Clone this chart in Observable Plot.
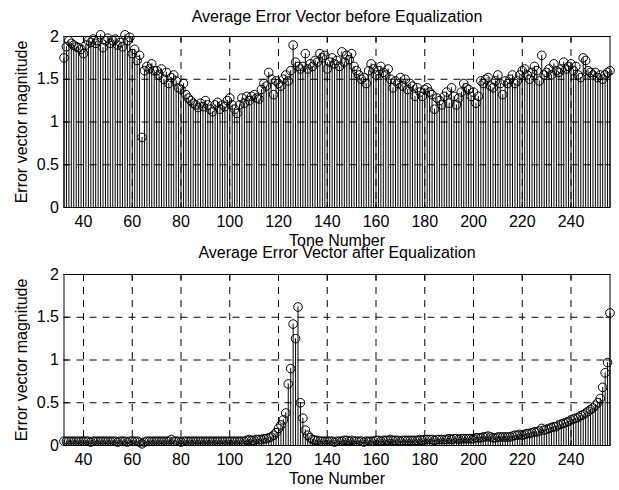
<!DOCTYPE html>
<html><head><meta charset="utf-8">
<script src="https://cdn.jsdelivr.net/npm/d3@7"></script>
<script src="https://cdn.jsdelivr.net/npm/@observablehq/plot@0.6"></script>
<style>
body{margin:0;background:#fff;}
#fig{position:relative;width:619px;height:490px;overflow:hidden;background:#fff;}
#fig svg{position:absolute;left:0;overflow:visible;background:transparent;}
</style></head><body><div id="fig"></div>
<script>
const firstTone = 32;
// Average error vector magnitude before equalization, tones 32..256
const beforeEq = [
  1.75,1.88,1.95,1.92,1.9,1.88,1.87,1.85,1.8,1.9,
  1.95,1.93,1.97,1.92,1.95,2.02,1.87,1.95,1.98,1.92,
  1.95,1.97,1.9,1.93,1.88,2.02,1.95,1.99,1.8,1.85,
  1.72,1.78,0.82,1.6,1.65,1.62,1.68,1.6,1.6,1.55,
  1.62,1.5,1.58,1.45,1.52,1.55,1.48,1.4,1.38,1.45,
  1.32,1.28,1.25,1.22,1.2,1.17,1.22,1.18,1.25,1.2,
  1.15,1.12,1.2,1.23,1.15,1.2,1.18,1.25,1.28,1.2,
  1.15,1.1,1.2,1.28,1.22,1.3,1.25,1.3,1.32,1.28,
  1.27,1.38,1.45,1.42,1.58,1.5,1.32,1.48,1.45,1.42,
  1.5,1.55,1.48,1.6,1.9,1.7,1.65,1.62,1.65,1.8,
  1.62,1.68,1.65,1.72,1.7,1.8,1.75,1.78,1.62,1.7,
  1.75,1.68,1.72,1.65,1.82,1.7,1.78,1.73,1.8,1.65,
  1.6,1.55,1.5,1.52,1.45,1.6,1.68,1.62,1.55,1.6,
  1.65,1.58,1.55,1.62,1.5,1.4,1.48,1.45,1.52,1.42,
  1.5,1.38,1.45,1.42,1.3,1.4,1.35,1.3,1.38,1.4,
  1.35,1.32,1.15,1.28,1.25,1.2,1.3,1.35,1.22,1.4,
  1.3,1.2,1.28,1.35,1.45,1.4,1.38,1.3,1.35,1.22,
  1.3,1.48,1.45,1.5,1.52,1.42,1.4,1.48,1.55,1.45,
  1.32,1.48,1.45,1.5,1.55,1.45,1.48,1.55,1.6,1.62,
  1.55,1.5,1.58,1.65,1.6,1.48,1.78,1.55,1.58,1.62,
  1.55,1.68,1.6,1.58,1.62,1.7,1.62,1.65,1.68,1.6,
  1.65,1.55,1.52,1.75,1.72,1.6,1.58,1.55,1.58,1.52,
  1.55,1.5,1.55,1.58,1.6
];
// Average error vector magnitude after equalization, tones 32..256
const afterEq = [
  0.05,0.05,0.05,0.05,0.05,0.05,0.05,0.05,0.05,0.05,
  0.05,0.04,0.05,0.05,0.05,0.05,0.05,0.05,0.05,0.05,
  0.05,0.05,0.04,0.05,0.05,0.05,0.04,0.05,0.05,0.05,
  0.05,0.04,0.02,0.04,0.05,0.05,0.05,0.05,0.05,0.05,
  0.05,0.05,0.05,0.05,0.07,0.05,0.05,0.05,0.04,0.05,
  0.05,0.05,0.05,0.05,0.05,0.05,0.05,0.05,0.05,0.05,
  0.05,0.05,0.05,0.05,0.05,0.05,0.05,0.05,0.05,0.05,
  0.05,0.05,0.05,0.05,0.05,0.06,0.07,0.06,0.06,0.07,
  0.07,0.07,0.08,0.08,0.09,0.1,0.12,0.15,0.2,0.24,
  0.3,0.38,0.72,0.9,1.42,1.25,1.62,0.5,0.32,0.18,
  0.12,0.09,0.07,0.06,0.06,0.05,0.05,0.05,0.05,0.05,
  0.05,0.04,0.05,0.05,0.05,0.06,0.06,0.05,0.06,0.05,
  0.05,0.05,0.05,0.04,0.05,0.05,0.05,0.05,0.06,0.06,
  0.05,0.06,0.06,0.06,0.07,0.06,0.06,0.06,0.05,0.06,
  0.06,0.06,0.06,0.06,0.06,0.06,0.07,0.06,0.07,0.07,
  0.07,0.07,0.06,0.07,0.07,0.07,0.07,0.07,0.08,0.07,
  0.08,0.08,0.07,0.08,0.08,0.08,0.08,0.08,0.08,0.09,
  0.09,0.09,0.1,0.1,0.11,0.1,0.09,0.09,0.1,0.1,
  0.1,0.1,0.1,0.1,0.11,0.12,0.12,0.13,0.12,0.13,
  0.14,0.14,0.15,0.16,0.16,0.17,0.2,0.18,0.19,0.2,
  0.21,0.22,0.22,0.24,0.25,0.26,0.27,0.28,0.3,0.31,
  0.32,0.33,0.35,0.36,0.38,0.4,0.42,0.44,0.47,0.5,
  0.55,0.68,0.85,0.97,1.55
];
const xTicks = [40,60,80,100,120,140,160,180,200,220,240];
const yTicks = [0,0.5,1,1.5,2];
const titleBefore = "Average Error Vector before Equalization";
const titleAfter = "Average Error Vector after Equalization";
const xLabel = "Tone Number";
const yLabel = "Error vector magnitude";

const FONT = "'Liberation Sans', Arial, Helvetica, sans-serif";
const fig = document.getElementById("fig");

function panel(values, title, top, height, marginTop, marginBottom, titleDy) {
  const data = values.map((v, i) => ({tone: firstTone + i, v}));
  const svg = Plot.plot({
    width: 619, height,
    marginLeft: 63.5, marginRight: 9.5, marginTop, marginBottom,
    style: {fontFamily: FONT, fontSize: "16px", color: "black", background: "transparent", overflow: "visible"},
    x: {domain: [firstTone, firstTone + values.length - 1]},
    y: {domain: [yTicks[0], yTicks[yTicks.length - 1]]},
    marks: [
      Plot.gridX(xTicks, {stroke: "black", strokeOpacity: 1, strokeWidth: 1, strokeDasharray: "7,6"}),
      Plot.gridY(yTicks.slice(1), {stroke: "black", strokeOpacity: 1, strokeWidth: 1, strokeDasharray: "7,6"}),
      Plot.ruleX(data, {x: "tone", y1: 0, y2: "v", stroke: "black", strokeWidth: 1}),
      Plot.dot(data, {x: "tone", y: "v", r: 4.3, stroke: "black", fill: "none", strokeWidth: 1}),
      Plot.frame({stroke: "black", strokeWidth: 1}),
      Plot.axisX(xTicks, {anchor: "bottom", tickSize: -5, tickPadding: 13, label: null, tickFormat: d => String(d)}),
      Plot.axisX(xTicks, {anchor: "top", tickSize: -5, label: null, tickFormat: () => ""}),
      Plot.axisY(yTicks, {anchor: "left", tickSize: -5, tickPadding: 10, label: null, tickFormat: d => String(d)}),
      Plot.axisY(yTicks, {anchor: "right", tickSize: -5, label: null, tickFormat: () => ""}),
      Plot.text([title], {text: d => d, frameAnchor: "top", dy: titleDy, lineAnchor: "middle", textAnchor: "middle", fontSize: 16}),
      Plot.text([xLabel], {text: d => d, frameAnchor: "bottom", dy: 33, lineAnchor: "middle", textAnchor: "middle", fontSize: 16}),
      Plot.text([yLabel], {text: d => d, frameAnchor: "left", dx: -42, rotate: -90, lineAnchor: "middle", textAnchor: "middle", fontSize: 16})
    ]
  });
  svg.style.top = top + "px";
  fig.appendChild(svg);
}

panel(beforeEq, titleBefore, 0, 245, 36, 38, -20);
panel(afterEq, titleAfter, 245, 245, 29, 45, -22);
</script>
</body></html>
